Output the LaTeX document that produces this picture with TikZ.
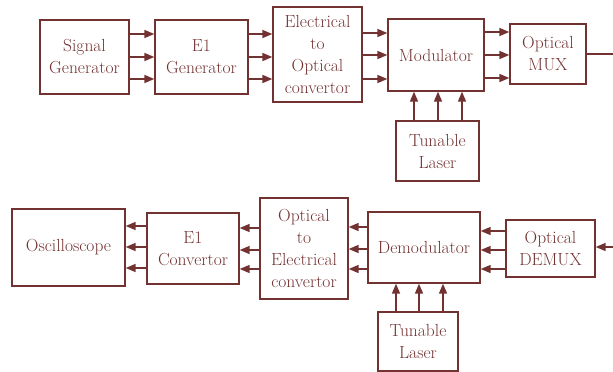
\documentclass[tikz,border=0pt]{standalone}
\usepackage{fontspec}
\usetikzlibrary{arrows.meta}
\definecolor{blockred}{RGB}{115,50,50}

\begin{document}
\begin{tikzpicture}[
  x=1pt, y=-1pt,
  block/.style={
    rectangle, draw=blockred, line width=1.3pt, text=blockred,
    inner sep=0pt, align=center,
    font=\fontsize{17.5}{22}\selectfont
  },
  link/.style={draw=blockred, line width=1.4pt,
    -{Triangle[length=10pt,width=8pt]}}
]
  \useasboundingbox (0,0) rectangle (613,372);

  % transmitter
  \node[block, minimum width=89pt, minimum height=74pt] (siggen) at (84.5,57) {Signal\\Generator};
  \node[block, minimum width=93pt, minimum height=74pt] (e1gen) at (201.5,57) {E1\\Generator};
  \node[block, minimum width=89pt, minimum height=95pt] (eleopt) at (317.5,54.5) {Electrical\\to\\Optical\\convertor};
  \node[block, minimum width=96pt, minimum height=72pt] (mod) at (436,55) {Modulator};
  \node[block, minimum width=76pt, minimum height=60pt] (mux) at (548,54) {Optical\\MUX};
  \node[block, minimum width=83pt, minimum height=60pt] (txlaser) at (437.5,151) {Tunable\\Laser};
  \coordinate (txout) at (613,54);

  \foreach \y in {34,57,79}
    \draw[link] (siggen.east |- 0,\y) -- (e1gen.west |- 0,\y);
  \foreach \y in {34,57,79}
    \draw[link] (e1gen.east |- 0,\y) -- (eleopt.west |- 0,\y);
  \foreach \y in {33,55,79}
    \draw[link] (eleopt.east |- 0,\y) -- (mod.west |- 0,\y);
  \foreach \y in {32,55,78}
    \draw[link] (mod.east |- 0,\y) -- (mux.west |- 0,\y);
  \foreach \x in {414,438,462}
    \draw[link] (txlaser.north -| \x,0) -- (mod.south -| \x,0);
  \draw[draw=blockred, line width=1.4pt] (mux.east) -- (txout);

  % receiver
  \node[block, minimum width=113pt, minimum height=77pt] (scope) at (68.5,247.5) {Oscilloscope};
  \node[block, minimum width=92pt, minimum height=71pt] (e1conv) at (193,248.5) {E1\\Convertor};
  \node[block, minimum width=88pt, minimum height=101pt] (optele) at (304,248.5) {Optical\\to\\Electrical\\convertor};
  \node[block, minimum width=112pt, minimum height=71pt] (demod) at (424,247.5) {Demodulator};
  \node[block, minimum width=89pt, minimum height=57pt] (demux) at (550.5,248.5) {Optical\\DEMUX};
  \node[block, minimum width=80pt, minimum height=59pt] (rxlaser) at (418,341.5) {Tunable\\Laser};
  \coordinate (rxin) at (613,247);

  \draw[link] (rxin) -- (demux.east |- rxin);
  \foreach \y in {231,250,269}
    \draw[link] (demux.west |- 0,\y) -- (demod.east |- 0,\y);
  \foreach \y in {227,249,269}
    \draw[link] (demod.west |- 0,\y) -- (optele.east |- 0,\y);
  \foreach \y in {228,250,269}
    \draw[link] (optele.west |- 0,\y) -- (e1conv.east |- 0,\y);
  \foreach \y in {226,247,268}
    \draw[link] (e1conv.west |- 0,\y) -- (scope.east |- 0,\y);
  \foreach \x in {396,419,443}
    \draw[link] (rxlaser.north -| \x,0) -- (demod.south -| \x,0);
\end{tikzpicture}
\end{document}
